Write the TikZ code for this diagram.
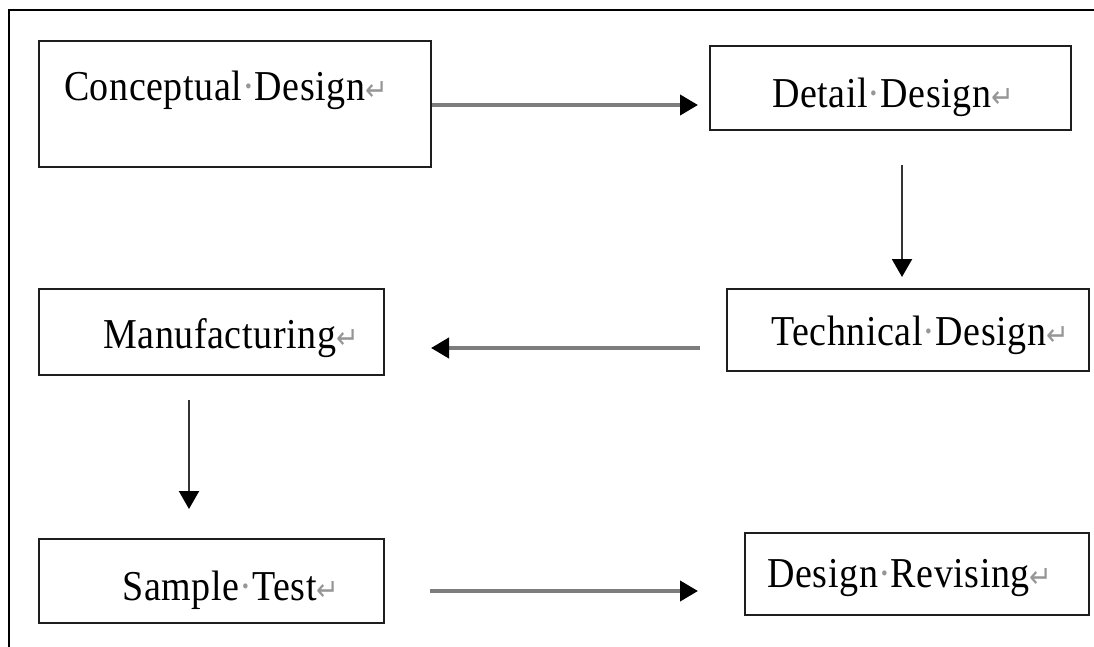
\documentclass[tikz,border=0pt]{standalone}
\usepackage{fontspec}
\setmainfont{Liberation Serif}[LetterSpace=1.5]
\newfontfamily\symfont{DejaVu Sans}
\usetikzlibrary{arrows.meta}
\definecolor{markgray}{RGB}{150,150,150}
\definecolor{shaftgray}{RGB}{125,125,125}
\definecolor{boxline}{RGB}{30,30,30}
% Word-style formatting marks: space dot and paragraph return
\newcommand{\spdot}{\textcolor{markgray}{·}}
\newcommand{\parmark}{\textcolor{markgray}{\symfont\fontsize{27}{27}\selectfont ↵}}
% slightly tall lettering for the stage names
\newcommand{\stagelabel}[1]{\scalebox{1}[1.12]{#1}}
\tikzset{
  stagebox/.style={draw=boxline, line width=2pt, fill=white, anchor=north west, inner sep=0pt},
  stagetext/.style={anchor=base, inner sep=0pt, font=\fontsize{38}{38}\selectfont},
  flowh/.style={draw=shaftgray, line width=4pt, -{Triangle[length=18pt,width=20pt,color=black]}},
  flowv/.style={draw=black!80, line width=2.2pt, -{Triangle[length=18pt,width=20pt,color=black]}}
}
\begin{document}
\begin{tikzpicture}[x=1pt,y=-1pt]
\useasboundingbox (0,0) rectangle (1094,647);
% outer frame (top and left edges)
\draw[line width=2.2pt] (9,647) -- (9,10) -- (1094,10);

% stage boxes
\node[stagebox, minimum width=392pt, minimum height=126pt] (cd) at (38,40) {};
\node[stagebox, minimum width=361pt, minimum height=84pt]  (dd) at (709,45) {};
\node[stagebox, minimum width=362pt, minimum height=82pt]  (td) at (726,288) {};
\node[stagebox, minimum width=345pt, minimum height=86pt]  (mf) at (38,288) {};
\node[stagebox, minimum width=345pt, minimum height=84pt]  (st) at (38,538) {};
\node[stagebox, minimum width=344pt, minimum height=82pt]  (dr) at (744,532) {};

% stage labels
\node[stagetext] (cdt) at (226,101) {\stagelabel{Conceptual\spdot Design\parmark}};
\node[stagetext] (ddt) at (893,108) {\stagelabel{Detail\spdot Design\parmark}};
\node[stagetext] (tdt) at (920,345) {\stagelabel{Technical\spdot Design\parmark}};
\node[stagetext] (mft) at (231,348) {\stagelabel{Manufacturing\parmark}};
\node[stagetext] (stt) at (231,600) {\stagelabel{Sample\spdot Test\parmark}};
\node[stagetext] (drt) at (910,587) {\stagelabel{Design\spdot Revising\parmark}};

% connectors
\coordinate (a1s) at (cd.east |- 0,105);
\coordinate (a1e) at (698,105);
\draw[flowh] (a1s) -- (a1e);

\coordinate (a2s) at (902,165);
\coordinate (a2e) at (902,277);
\draw[flowv] (a2s) -- (a2e);

\coordinate (a3s) at (700,348);
\coordinate (a3e) at (431,348);
\draw[flowh] (a3s) -- (a3e);

\coordinate (a4s) at (189,400);
\coordinate (a4e) at (189,509);
\draw[flowv] (a4s) -- (a4e);

\coordinate (a5s) at (430,591);
\coordinate (a5e) at (698,591);
\draw[flowh] (a5s) -- (a5e);
\end{tikzpicture}
\end{document}
